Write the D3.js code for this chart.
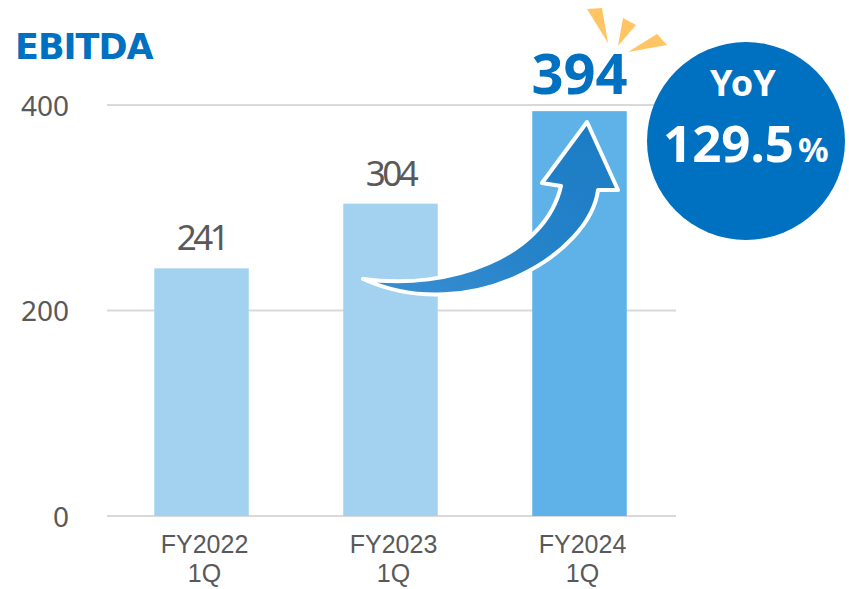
<!DOCTYPE html>
<html>
<head>
<meta charset="utf-8">
<script src="https://cdn.jsdelivr.net/npm/d3@7"></script>
<style>
  body { margin: 0; background: #fff; }
  text { font-family: "Noto Sans", sans-serif; }
</style>
</head>
<body>
<div id="graphic-area"></div>
<script>
// data
const periods = ["FY2022", "FY2023", "FY2024"];
const quarters = ["1Q", "1Q", "1Q"];
const ebitda = [241, 304, 394];
const yTicks = [0, 200, 400];
const yoyLabel = "YoY";
const yoyValue = "129.5";

const w = 849;
const h = 589;

const svg = d3.select("#graphic-area")
              .append("svg")
              .attr("width", w)
              .attr("height", h);

const xScale = d3.scaleBand()
                 .domain(periods)
                 .range([107, 674])
                 .paddingInner(0.5)
                 .paddingOuter(0.25);

const yScale = d3.scaleLinear()
                 .domain([0, 400])
                 .range([516, 105]);

const barColor = d3.scaleOrdinal()
                   .domain(periods)
                   .range(["#A2D2F0", "#A2D2F0", "#5EB2E8"]);

// gridlines
svg.append("g")
   .selectAll("line")
   .data(yTicks)
   .enter()
   .append("line")
   .attr("x1", 107)
   .attr("x2", 676)
   .attr("y1", d => yScale(d))
   .attr("y2", d => yScale(d))
   .attr("stroke", "#D9D9D9")
   .attr("stroke-width", 2);

// y axis (labels only)
const yAxis = d3.axisLeft(yScale).tickValues(yTicks).tickSize(0).tickPadding(0);
svg.append("g")
   .attr("transform", "translate(69,0)")
   .call(yAxis)
   .call(g => g.select(".domain").remove())
   .selectAll("text")
   .style("font-family", "'Noto Sans', sans-serif")
   .attr("font-size", 28)
   .attr("fill", "#595959")
   .attr("dy", "0.36em");

// bars
svg.selectAll("rect.bar")
   .data(ebitda)
   .enter()
   .append("rect")
   .attr("class", "bar")
   .attr("x", (d, i) => xScale(periods[i]))
   .attr("y", d => yScale(d))
   .attr("width", xScale.bandwidth())
   .attr("height", d => yScale(0) - yScale(d))
   .attr("fill", (d, i) => barColor(periods[i]));

// x axis labels (two lines)
const xAxis = d3.axisBottom(xScale).tickSize(0).tickPadding(0).tickFormat("");
const xg = svg.append("g")
   .attr("transform", "translate(3," + yScale(0) + ")")
   .call(xAxis)
   .call(g => g.select(".domain").remove());
xg.selectAll(".tick")
  .append("text")
  .attr("y", 37)
  .attr("text-anchor", "middle")
  .style("font-family", "'Liberation Sans', Arial, sans-serif")
  .attr("font-size", 25)
  .attr("fill", "#595959")
  .text(d => d);
xg.selectAll(".tick")
  .append("text")
  .attr("y", 66)
  .attr("text-anchor", "middle")
  .style("font-family", "'Liberation Sans', Arial, sans-serif")
  .attr("font-size", 25)
  .attr("fill", "#595959")
  .text((d, i) => quarters[i]);

// value labels
const last = ebitda.length - 1;
svg.selectAll("text.value")
   .data(ebitda)
   .enter()
   .append("text")
   .attr("class", "value")
   .attr("x", (d, i) => xScale(periods[i]) + xScale.bandwidth() / 2)
   .attr("y", (d, i) => yScale(d) - (i === last ? 17 : 18))
   .attr("text-anchor", "middle")
   .attr("font-size", (d, i) => i === last ? 56 : 35)
   .attr("font-weight", (d, i) => i === last ? "bold" : "normal")
   .attr("letter-spacing", (d, i) => i === last ? 0 : -3.5)
   .attr("fill", (d, i) => i === last ? "#0070C0" : "#595959")
   .text(d => d);

// title
svg.append("text")
   .attr("x", 15)
   .attr("y", 59)
   .style("font-family", "'DejaVu Sans', sans-serif")
   .attr("font-weight", "bold")
   .attr("font-size", 35)
   .attr("letter-spacing", -1)
   .attr("fill", "#0070C0")
   .text("EBITDA");

// sparkles above the last value
const sparks = [
  [[587, 9], [602, 8], [608, 43]],
  [[623, 18], [636, 25], [618, 46]],
  [[657, 34], [667, 45], [628, 52]]
];
svg.append("g")
   .selectAll("path")
   .data(sparks)
   .enter()
   .append("path")
   .attr("d", d => "M" + d.join("L") + "Z")
   .attr("fill", "#FFC565");

// curved arrow
const defs = svg.append("defs");
const grad = defs.append("linearGradient")
   .attr("id", "arrowGrad")
   .attr("x1", "0").attr("y1", "1").attr("x2", "1").attr("y2", "0");
grad.append("stop").attr("offset", "0%").attr("stop-color", "#3C8FD2");
grad.append("stop").attr("offset", "45%").attr("stop-color", "#2583C9");
grad.append("stop").attr("offset", "100%").attr("stop-color", "#1A7BC4");

const arrow = d3.path();
arrow.moveTo(363, 279);
arrow.bezierCurveTo(450, 291, 545, 256, 561, 186);
arrow.lineTo(542, 183);
arrow.lineTo(587, 122);
arrow.lineTo(618, 190);
arrow.lineTo(598, 190);
arrow.bezierCurveTo(590, 254, 470, 327, 363, 279);
arrow.closePath();

svg.append("path")
   .attr("d", arrow.toString())
   .attr("fill", "url(#arrowGrad)")
   .attr("stroke", "#FFFFFF")
   .attr("stroke-width", 4)
   .attr("stroke-linejoin", "round");

// YoY badge
svg.append("circle")
   .attr("cx", 746)
   .attr("cy", 141)
   .attr("r", 99)
   .attr("fill", "#0070C0");

svg.append("text")
   .attr("x", 743)
   .attr("y", 96)
   .attr("text-anchor", "middle")
   .attr("font-weight", "bold")
   .attr("font-size", 36)
   .attr("fill", "#FFFFFF")
   .text(yoyLabel);

const yoyText = svg.append("text")
   .attr("x", 663)
   .attr("y", 162)
   .attr("font-weight", "bold")
   .attr("fill", "#FFFFFF");
yoyText.append("tspan")
   .attr("font-size", 51)
   .text(yoyValue);
yoyText.append("tspan")
   .attr("dx", 4)
   .attr("font-size", 34)
   .text("%");
</script>
</body>
</html>
